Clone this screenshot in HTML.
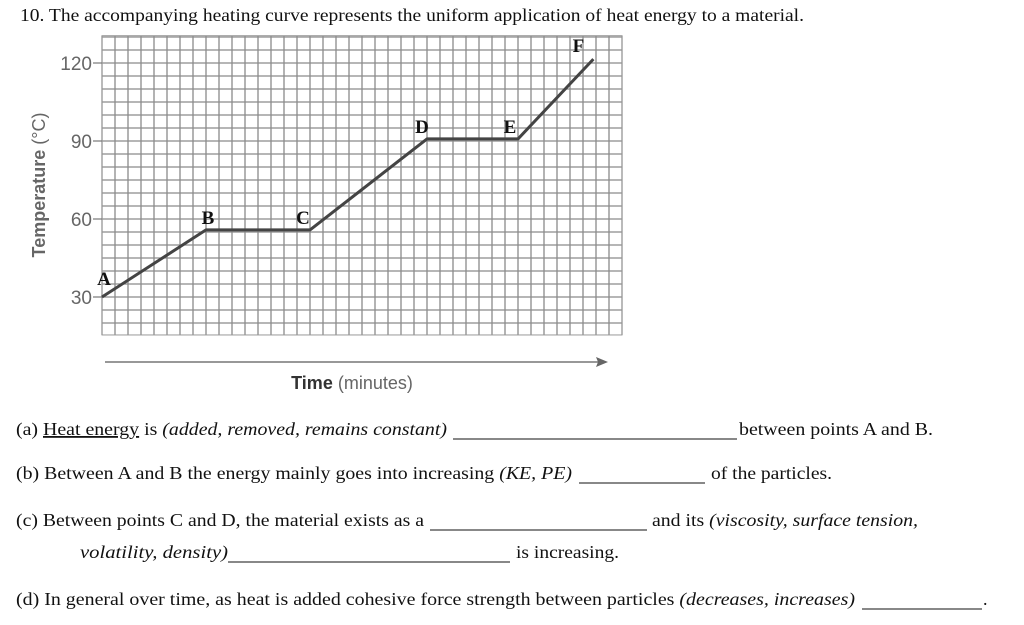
<!DOCTYPE html>
<html><head><meta charset="utf-8"><style>
html,body{margin:0;padding:0;background:#fff;}
svg{display:block;}
.t{font-family:"Liberation Serif",serif;font-size:18px;fill:#111;}
.ax{font-family:"Liberation Sans",sans-serif;fill:#666;}
.pl{font-family:"Liberation Serif",serif;font-weight:bold;font-size:19px;fill:#111;}
</style></head><body>
<svg id="s" width="1024" height="625" viewBox="0 0 1024 625" xmlns="http://www.w3.org/2000/svg">
<text class="t" x="20" y="21" textLength="784" lengthAdjust="spacingAndGlyphs">10.  The accompanying heating curve represents the uniform application of heat energy to a material.</text>
<g id="grid"></g>
<g id="ticks"></g>
<path id="curve" fill="none" stroke="#444" stroke-width="3" stroke-linejoin="round"/>
<g id="labels"></g>
<text class="ax" font-size="18" transform="translate(45,185) rotate(-90)" text-anchor="middle" fill="#555"><tspan font-weight="bold">Temperature</tspan> (°C)</text>
<line x1="105" y1="362" x2="600" y2="362" stroke="#777" stroke-width="1.5"/>
<polygon points="608,362 596,357 598,362 596,367" fill="#666"/>
<text class="ax" font-size="18" x="352" y="389" text-anchor="middle"><tspan font-weight="bold" fill="#333">Time</tspan> (minutes)</text>

<g>
<text class="t" x="16" y="435" textLength="431" lengthAdjust="spacingAndGlyphs">(a) <tspan text-decoration="underline">Heat energy</tspan> is <tspan font-style="italic">(added, removed, remains constant)</tspan></text>
<line x1="453" y1="439" x2="737" y2="439" stroke="#111"/>
<text class="t" x="739" y="435" textLength="194" lengthAdjust="spacingAndGlyphs">between points A and B.</text>
</g>
<g>
<text class="t" x="16" y="479" textLength="556" lengthAdjust="spacingAndGlyphs">(b) Between A and B the energy mainly goes into increasing <tspan font-style="italic">(KE, PE)</tspan></text>
<line x1="579" y1="483" x2="705" y2="483" stroke="#111"/>
<text class="t" x="711" y="479" textLength="121" lengthAdjust="spacingAndGlyphs">of the particles.</text>
</g>
<g>
<text class="t" x="16" y="526" textLength="408" lengthAdjust="spacingAndGlyphs">(c) Between points C and D, the material exists as a</text>
<line x1="430" y1="530" x2="647" y2="530" stroke="#111"/>
<text class="t" x="652" y="526" textLength="266" lengthAdjust="spacingAndGlyphs">and its <tspan font-style="italic">(viscosity, surface tension,</tspan></text>
<text class="t" x="80" y="558" textLength="148" lengthAdjust="spacingAndGlyphs" font-style="italic">volatility, density)</text>
<line x1="228" y1="562" x2="510" y2="562" stroke="#111"/>
<text class="t" x="516" y="558" textLength="103" lengthAdjust="spacingAndGlyphs">is increasing.</text>
</g>
<g>
<text class="t" x="16" y="605" textLength="839" lengthAdjust="spacingAndGlyphs">(d)  In general over time, as heat is added cohesive force strength between particles <tspan font-style="italic">(decreases, increases)</tspan></text>
<line x1="862" y1="609" x2="982" y2="609" stroke="#111"/>
<text class="t" x="983" y="605">.</text>
</g>
</svg>
<script>
const times=[0,8,16,25,32,37.8];
const temps=[30,55.8,55.8,90.8,90.8,121.5];
const pointNames=["A","B","C","D","E","F"];
const yTicks=[30,60,90,120];
const labelDx=[2,2,-7,-5,-8,-15];
const NS="http://www.w3.org/2000/svg";
const x0=102,cell=13,yRef=297,pxPerDeg=2.6;
const X=t=>x0+t*cell;
const Y=v=>yRef-(v-30)*pxPerDeg;
const g=document.getElementById('grid');
function ln(p,x1,y1,x2,y2,c,w){const l=document.createElementNS(NS,'line');l.setAttribute('x1',x1);l.setAttribute('y1',y1);l.setAttribute('x2',x2);l.setAttribute('y2',y2);l.setAttribute('stroke',c);l.setAttribute('stroke-width',w);p.appendChild(l);return l;}
const yTop=Y(130.5),yBot=Y(15.4),xRight=X(40);
for(let i=0;i<=40;i++){const l=ln(g,X(i),yTop,X(i),yBot,'#8a8a8a',1.3);

}
for(let v=20;v<=130;v+=5){const l=ln(g,x0,Y(v),xRight,Y(v),'#8a8a8a',1.3);

}
const r=document.createElementNS(NS,'rect');r.setAttribute('x',x0);r.setAttribute('y',yTop);r.setAttribute('width',xRight-x0);r.setAttribute('height',yBot-yTop);r.setAttribute('fill','none');r.setAttribute('stroke','#999');g.appendChild(r);


const tk=document.getElementById('ticks');
yTicks.forEach(v=>{const tl=ln(tk,93,Y(v),x0,Y(v),'#777',1.2);


const t=document.createElementNS(NS,'text');t.setAttribute('class','ax');t.setAttribute('font-size','19');t.setAttribute('x',92);t.setAttribute('y',Y(v)+7);t.setAttribute('text-anchor','end');t.textContent=v;tk.appendChild(t);

});
document.getElementById('curve').setAttribute('d',times.map((t,i)=>(i?'L':'M')+X(t)+','+Y(temps[i])).join(' '));
const lb=document.getElementById('labels');
pointNames.forEach((n,i)=>{const t=document.createElementNS(NS,'text');t.setAttribute('class','pl');t.setAttribute('x',X(times[i])+labelDx[i]);t.setAttribute('y',Y(temps[i])-(i===0?12:i===5?7:6));t.setAttribute('text-anchor','middle');t.textContent=n;lb.appendChild(t);

});
</script>
</body></html>
